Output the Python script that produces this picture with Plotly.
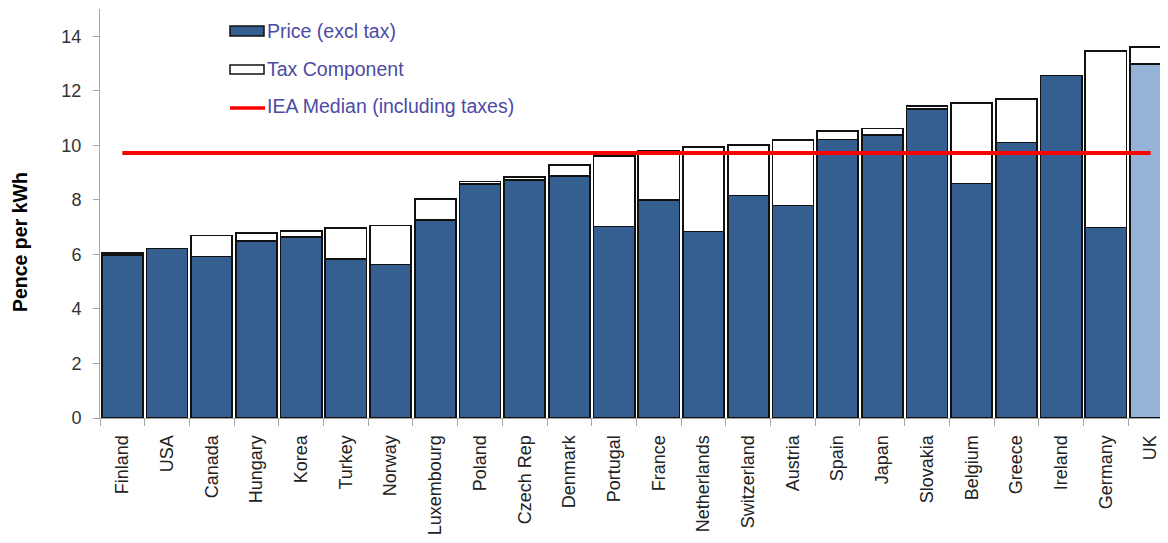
import plotly.graph_objects as go

countries = ["Finland", "USA", "Canada", "Hungary", "Korea", "Turkey", "Norway",
             "Luxembourg", "Poland", "Czech Rep", "Denmark", "Portugal", "France",
             "Netherlands", "Switzerland", "Austria", "Spain", "Japan", "Slovakia",
             "Belgium", "Greece", "Ireland", "Germany", "UK"]
price_excl_tax = [5.97, 6.22, 5.92, 6.49, 6.64, 5.82, 5.63, 7.25, 8.57, 8.74, 8.88,
                  7.02, 7.99, 6.84, 8.16, 7.79, 10.21, 10.39, 11.34, 8.60, 10.10,
                  12.56, 6.99, 12.99]
tax_component = [0.07, 0.0, 0.77, 0.29, 0.23, 1.15, 1.43, 0.77, 0.10, 0.10, 0.41,
                 2.58, 1.82, 3.10, 1.85, 2.40, 0.31, 0.23, 0.10, 2.94, 1.59,
                 0.0, 6.48, 0.62]
iea_median = 9.72

DARK = "#365f91"
LIGHT = "#95b3d7"
LEG_TXT = "#4b4ba5"
FONT = "Liberation Sans, Arial, sans-serif"

price_colors = [LIGHT if c == "UK" else DARK for c in countries]

fig = go.Figure()
fig.add_trace(go.Bar(
    x=countries, y=price_excl_tax, name="Price (excl tax)",
    marker=dict(color=price_colors, line=dict(color="#111111", width=1.7)),
    showlegend=False,
))
fig.add_trace(go.Bar(
    x=countries, y=tax_component, name="Tax Component",
    marker=dict(color="white", line=dict(color="#111111", width=1.7)),
    showlegend=False,
))
fig.add_trace(go.Scatter(
    x=[countries[0], countries[-1]], y=[iea_median, iea_median],
    mode="lines", line=dict(color="#ff0000", width=4),
    name="IEA Median (including taxes)", showlegend=False,
))

# manual legend (plot area on page: x 100..1168 px, y 9..418 px)
def px(xp):
    return (xp - 100) / 1068.0

def py(yp):
    return (418 - yp) / 409.0

shapes = [
    dict(type="rect", xref="paper", yref="paper", x0=px(230), x1=px(264),
         y0=py(36), y1=py(26), fillcolor=DARK, line=dict(color="#111111", width=1.5)),
    dict(type="rect", xref="paper", yref="paper", x0=px(230), x1=px(264),
         y0=py(74), y1=py(65), fillcolor="white", line=dict(color="#111111", width=1.5)),
    dict(type="line", xref="paper", yref="paper", x0=px(230), x1=px(265),
         y0=py(108), y1=py(108), line=dict(color="#ff0000", width=3.5)),
]
legend_texts = ["Price (excl tax)", "Tax Component", "IEA Median (including taxes)"]
legend_y = [31, 69, 106]
annotations = [
    dict(xref="paper", yref="paper", x=px(265), y=py(yy), text=t, showarrow=False,
         xanchor="left", yanchor="middle", font=dict(family=FONT, size=19.5, color=LEG_TXT))
    for t, yy in zip(legend_texts, legend_y)
]
# y-axis title
annotations.append(dict(
    xref="paper", yref="paper", x=px(20), y=py(242), text="<b>Pence per kWh</b>",
    textangle=-90, showarrow=False, xanchor="center", yanchor="middle",
    font=dict(family=FONT, size=19.5, color="#000000"),
))

# page has an 8px body margin: figure is 1160x535 placed at (8, 8)
fig.update_layout(
    barmode="stack", bargap=0.08,
    width=1160, height=535,
    margin=dict(l=92, r=0, t=1, b=125),
    paper_bgcolor="white", plot_bgcolor="white",
    font=dict(family=FONT, size=18, color="#222222"),
    shapes=shapes, annotations=annotations,
    xaxis=dict(type="category", range=[-0.5, 23.39], showline=True,
               linecolor="#a6a6a6", linewidth=1, ticks="outside", tickson="boundaries",
               ticklen=7, tickcolor="#a6a6a6", tickangle=-90, showgrid=False,
               ticklabelstandoff=9,
               tickfont=dict(family=FONT, size=18, color="#222222")),
    yaxis=dict(range=[0, 15], dtick=2, tick0=0, showline=True, linecolor="#a6a6a6",
               linewidth=1, ticks="outside", ticklen=6, tickcolor="#a6a6a6",
               showgrid=False, zeroline=False, ticklabelstandoff=8,
               tickfont=dict(family=FONT, size=18, color="#333333")),
)

fig.write_html("out.html")
